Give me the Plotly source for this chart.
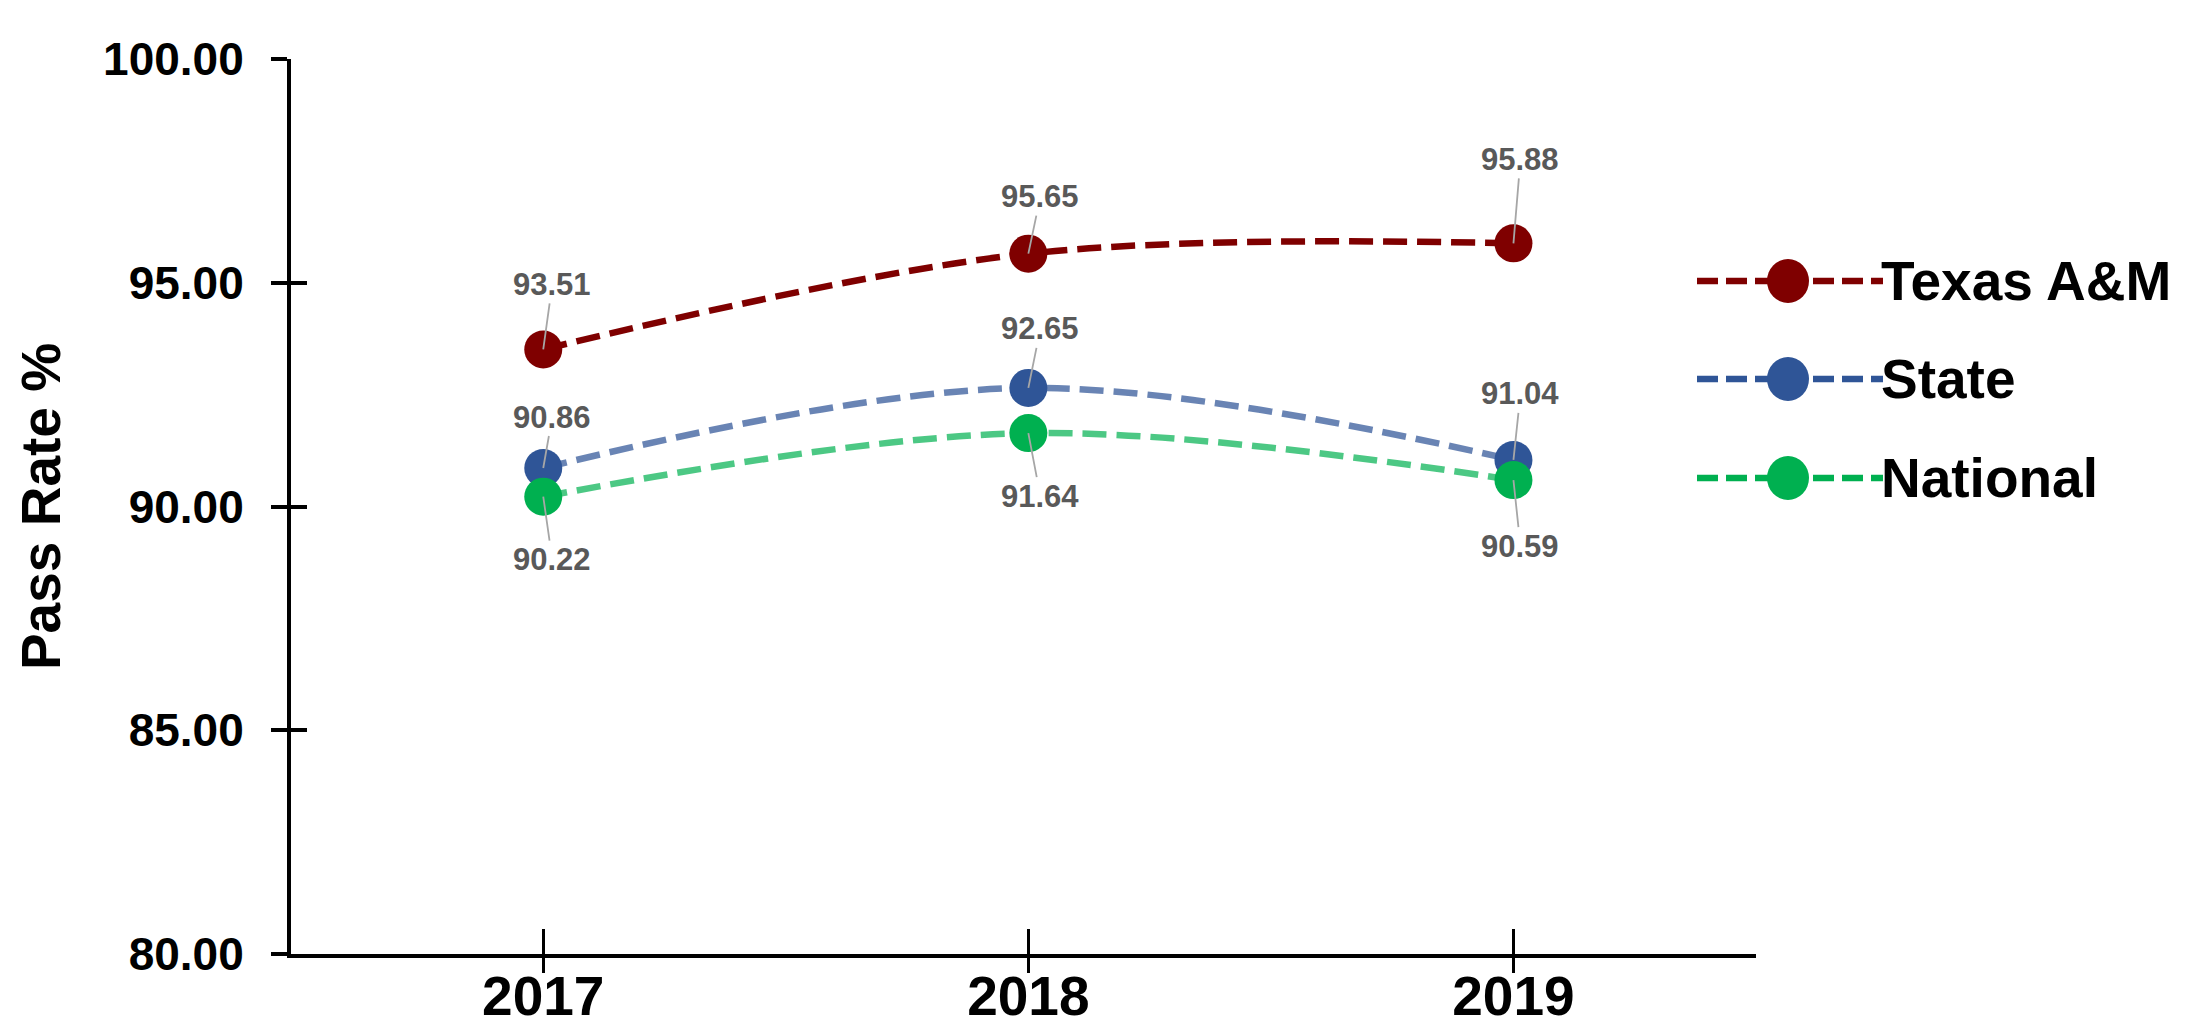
import plotly.graph_objects as go

# ---------------- data ----------------
years = ["2017", "2018", "2019"]
series_names = ["Texas A&M", "State", "National"]
texas_am = [93.51, 95.65, 95.88]
state = [90.86, 92.65, 91.04]
national = [90.22, 91.64, 90.59]
y_tick_values = [80, 85, 90, 95, 100]

# ---------------- styles ----------------
FONT = "Liberation Sans, Arial, sans-serif"
marker_colors = ["#7F0000", "#2F5597", "#00B050"]
line_colors = ["#7F0000", "rgba(47,85,151,0.72)", "rgba(0,176,80,0.70)"]
label_color = "#595959"
leader_color = "#A6A6A6"
# pixel offsets of each data label (text centre) from its point
label_offsets = [
    [(9, -65), (12, -57), (7, -84)],
    [(9, -51), (12, -59), (7, -66)],
    [(9, 63), (12, 63), (7, 66)],
]

OFFX, OFFY = 5, 8  # page offset of the figure
W, H = 2203 - OFFX, 1031 - OFFY
L, R, T, B = 288 - OFFX, 1753 - OFFX, 59 - OFFY, 954 - OFFY  # plot area in figure pixels

all_series = [texas_am, state, national]

fig = go.Figure()
for name, vals, lc, mc in zip(series_names, all_series, line_colors, marker_colors):
    fig.add_trace(go.Scatter(
        x=years, y=vals, name=name, mode="lines+markers",
        line=dict(color=lc, width=6.5, dash="24px,10px", shape="spline", smoothing=1.0),
        marker=dict(color=mc, size=38, line=dict(width=0)),
        showlegend=False, hoverinfo="skip",
    ))

# invisible trace on overlay axes so the inward tick halves get drawn
fig.add_trace(go.Scatter(x=years, y=[90] * len(years), xaxis="x2", yaxis="y2",
                         showlegend=False, hoverinfo="skip", mode="markers",
                         marker=dict(opacity=0)))

annotations = []
for vals, offs in zip(all_series, label_offsets):
    for i, (v, (dx, dy)) in enumerate(zip(vals, offs)):
        annotations.append(dict(
            x=i, y=v, xref="x", yref="y", text=f"{v:.2f}",
            showarrow=True, arrowhead=0, arrowwidth=1.8, arrowcolor=leader_color,
            ax=dx, ay=dy, standoff=0,
            font=dict(family=FONT, size=31, color=label_color, weight="bold"),
        ))


def px_x(p):
    return (p - OFFX - L) / (R - L)


def px_y(p):
    return (B - (p - OFFY)) / (B - T)


# custom legend: long dashed line + big marker + text (page pixel positions)
shapes = []
legend_rows = [281, 379, 478]
for name, mc, ry in zip(series_names, marker_colors, legend_rows):
    shapes.append(dict(type="line", xref="paper", yref="paper",
                       x0=px_x(1694), x1=px_x(1880), y0=px_y(ry), y1=px_y(ry),
                       line=dict(color=mc, width=6.5, dash="21px,8px")))
    shapes.append(dict(type="circle", xref="paper", yref="paper",
                       xsizemode="pixel", ysizemode="pixel",
                       xanchor=px_x(1785), yanchor=px_y(ry),
                       x0=-21, x1=21, y0=-22, y1=22,
                       fillcolor=mc, line=dict(width=0)))
    annotations.append(dict(x=px_x(1876), y=px_y(ry), xref="paper", yref="paper",
                            text=name, showarrow=False, xanchor="left", yanchor="middle",
                            font=dict(family=FONT, size=55, color="black", weight="bold")))

xrange = [-0.52, 2.5]
yrange = [80, 100]

fig.update_layout(
    width=W, height=H,
    margin=dict(l=L, r=W - R, t=T, b=H - B, autoexpand=False),
    paper_bgcolor="white", plot_bgcolor="white",
    font=dict(family=FONT, color="black"),
    xaxis=dict(type="category", range=xrange, showgrid=False, zeroline=False,
               showline=True, linecolor="black", linewidth=4,
               ticks="outside", ticklen=15, tickwidth=3, tickcolor="black",
               ticklabelstandoff=-24,
               tickfont=dict(family=FONT, size=55, color="black", weight="bold")),
    xaxis2=dict(type="category", range=xrange, overlaying="x", anchor="y",
                showgrid=False, zeroline=False, showline=False, ticks="inside",
                ticklen=25, tickwidth=3, tickcolor="black", showticklabels=False),
    yaxis=dict(range=yrange, tickvals=y_tick_values, tickformat=".2f",
               showgrid=False, zeroline=False, showline=True, linecolor="black",
               linewidth=4, ticks="outside", ticklen=16, tickwidth=4, tickcolor="black",
               ticklabelstandoff=18,
               tickfont=dict(family=FONT, size=46, color="black", weight="bold"),
               title=dict(text="Pass Rate %", standoff=26,
                          font=dict(family=FONT, size=55, color="black", weight="bold"))),
    yaxis2=dict(range=yrange, overlaying="y", anchor="x", side="left",
                tickmode="array", tickvals=y_tick_values,
                showgrid=False, zeroline=False, showline=False, ticks="inside",
                ticklen=16, tickwidth=4, tickcolor="black", showticklabels=False),
    annotations=annotations,
    shapes=shapes,
    showlegend=False,
)

fig.write_html("out.html")
